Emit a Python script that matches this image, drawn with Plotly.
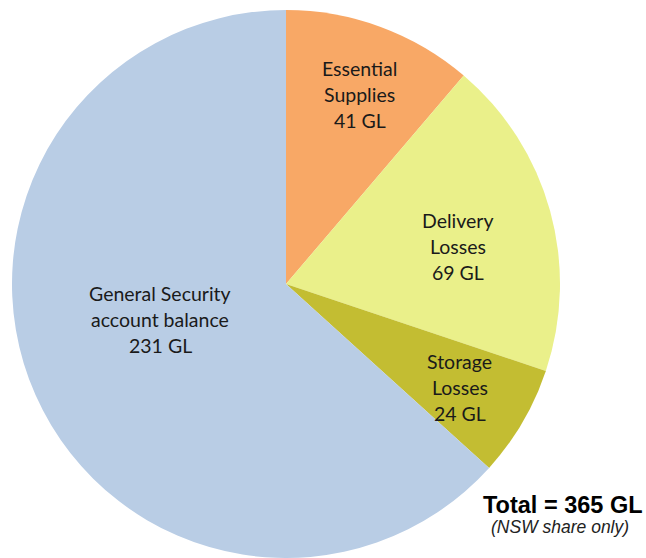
import plotly.graph_objects as go

labels = ["Essential<br>Supplies", "Delivery<br>Losses", "Storage<br>Losses", "General Security<br>account balance"]
values = [41, 69, 24, 231]
colors = ["#F8A866", "#EAF08A", "#C3BD32", "#B9CDE5"]
label_pos = [(0.557, 0.830), (0.709, 0.559), (0.712, 0.305), (0.248, 0.427)]
total_text = "Total = %d GL" % sum(values)
note_text = "(NSW share only)"

fig = go.Figure(go.Pie(
    labels=labels, values=values, sort=False, direction="clockwise", rotation=0,
    marker=dict(colors=colors, line=dict(width=0)),
    textinfo="none", hoverinfo="label+value", showlegend=False,
    domain=dict(x=[12/646, 560/646], y=[0, 548/558]),
))

step = 26 / 558
for lab, v, (x, y) in zip(labels, values, label_pos):
    lines = lab.split("<br>") + [f"{v} GL"]
    n = len(lines)
    for i, ln in enumerate(lines):
        fig.add_annotation(x=x, y=y + ((n - 1) / 2 - i) * step, xref="paper", yref="paper",
                           xanchor="center", yanchor="middle", showarrow=False,
                           text=ln, font=dict(family="Lato", size=19.5, color="#1a1a1a"))

fig.add_annotation(x=563/646, y=1 - 505/558, xref="paper", yref="paper", showarrow=False,
                   xanchor="center", yanchor="middle",
                   text=f"<b>{total_text}</b>", font=dict(family="Liberation Sans, Arial", size=23.5, color="black"))
fig.add_annotation(x=560/646, y=1 - 527/558, xref="paper", yref="paper", showarrow=False,
                   xanchor="center", yanchor="middle",
                   text=f"<i>{note_text}</i>", font=dict(family="Liberation Sans, Arial", size=17.5, color="#222"))

fig.update_layout(width=646, height=558, margin=dict(l=0, r=0, t=0, b=0),
                  paper_bgcolor="white", plot_bgcolor="white")
fig.write_html("out.html", config={"displayModeBar": False},
               post_script="document.body.style.margin='0';document.body.style.overflow='hidden';")
